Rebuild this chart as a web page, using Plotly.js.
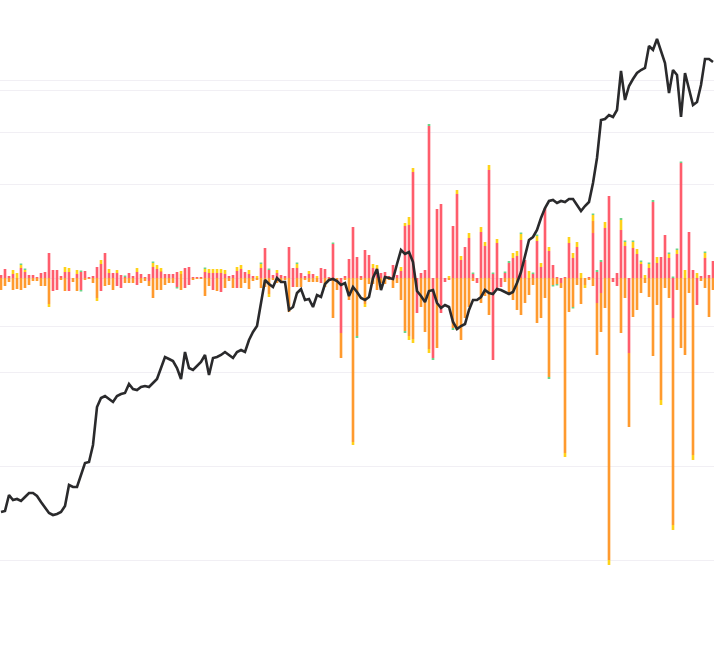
<!DOCTYPE html>
<html>
<head>
<meta charset="utf-8">
<script src="https://cdn.plot.ly/plotly-3.0.1.min.js"></script>
<style>html,body{margin:0;padding:0;background:#fff;}#chart{width:714px;height:648px;}</style>
</head>
<body>
<div id="chart"></div>
<script>
// Day index (categories)
const days = Array.from({length: 179}, (_, i) => i);

// Positive (upward) stacked components
const redPos = [
3,9,2,4,0,10,6,3,3,1, 5,6,25,8,8,2,6,6,0,4, 6,7,1,2,11,14,25,5,5,5, 3,1,5,2,6,4,1,4,11,9,
6,4,4,4,6,0,10,11,1,1, 1,6,5,5,5,5,4,2,3,7, 9,6,4,2,0,10,30,8,3,5, 3,2,31,10,10,5,2,4,4,0,
10,9,1,34,0,0,2,19,51,21, 2,28,23,10,9,5,6,2,13,3, 7,52,53,106,0,5,8,152,0,69, 74,0,0,52,84,18,31,40,4,0,
46,32,108,4,35,0,5,15,20,22, 38,18,0,4,37,11,70,27,13,1, 0,1,35,20,31,0,0,1,45,6, 16,50,82,0,5,48,32,0,30,24,
14,0,10,76,15,21,43,20,0,24, 115,0,46,8,0,2,20,3,17];
const orangePos = [
0,0,0,0,0,0,0,0,0,0, 0,0,0,0,0,0,0,0,0,0, 0,0,0,0,0,0,0,0,0,0, 0,0,0,0,0,0,0,0,0,0,
1,0,0,0,0,4,0,0,0,0, 0,0,0,0,0,0,0,0,0,0, 0,0,0,0,0,0,0,0,0,0, 0,0,0,0,0,0,0,0,0,0,
0,0,0,0,0,0,0,0,0,0, 0,0,0,0,0,0,0,0,0,0, 0,0,0,0,0,0,0,0,0,0, 0,0,0,0,0,0,0,0,0,0,
0,0,0,0,0,0,0,0,0,0, 0,0,0,0,0,0,0,0,0,0, 0,0,0,0,0,0,0,0,12,0, 0,0,0,0,0,0,0,0,0,0,
0,0,0,0,0,0,0,0,0,0, 0,0,0,0,0,0,0,0,0];
const yellowPos = [
0,0,0,4,5,3,2,0,0,0, 0,0,0,0,0,0,5,4,0,4, 0,0,0,0,0,4,0,4,0,3, 0,0,0,0,4,0,0,0,4,4,
3,0,0,0,0,3,0,0,0,0, 0,3,4,4,4,4,4,0,0,4, 4,0,4,0,2,4,0,0,0,3, 0,0,0,0,4,0,0,3,0,2,
0,0,0,0,0,0,0,0,0,0, 0,0,0,4,4,0,0,0,0,0, 4,3,8,4,0,0,0,0,0,0, 0,0,2,0,4,4,0,5,0,0,
5,4,5,0,4,0,0,0,5,5, 6,0,7,0,5,4,0,4,0,0, 0,0,6,5,5,5,0,0,6,0, 0,6,0,0,0,10,4,0,6,5,
2,3,4,0,6,0,0,4,0,4, 0,8,0,0,5,0,5,0,0];
const greenPos = [
0,0,0,0,0,1.5,1.5,0,0,0, 0,0,0,0,0,0,0,0,0,0, 1.5,0,0,0,0,0,0,0,0,0, 0,1.5,0,0,0,0,0,0,1.5,0,
0,0,0,0,0,0,0,0,0,0, 0,1.5,0,0,0,0,0,0,0,0, 0,0,0,0,0,1.5,0,1.5,0,0, 0,0,0,0,1.5,0,0,0,0,0,
0,0,0,1.5,0,0,0,0,0,0, 0,0,0,0,0,0,0,0,0,0, 0,0,0,0,0,0,0,2,0,0, 0,0,0,0,0,0,0,0,1.5,0,
0,0,0,1.5,0,0,1.5,2,0,0, 1.5,0,0,1.5,1.5,0,0,0,0,0, 0,0,0,0,0,0,0,0,1.5,2, 2,0,0,0,0,2,1.5,0,1.5,0,
1.5,0,1.5,2,0,0,0,1.5,1.5,1.5, 1.5,0,0,0,0,0,1.5,0,0];

// Negative (downward) stacked components, as magnitudes
const redNeg = [
0,0,0,0,0,0,0,0,0,0, 0,0,0,13,12,0,0,13,0,0, 12,0,0,0,0,13,0,0,0,8, 10,0,0,0,7,0,0,3,0,0,
0,0,0,0,9,0,10,7,0,0, 0,0,0,12,0,14,0,0,0,10, 0,0,0,0,0,0,0,0,0,0, 0,0,0,9,0,0,0,0,0,0,
5,0,0,0,0,55,0,0,0,0, 0,0,0,0,0,0,0,0,0,0, 0,0,0,0,35,0,0,0,80,0, 35,4,0,0,0,0,0,0,0,5,
0,0,0,82,12,9,0,0,0,0, 0,0,0,0,0,0,0,0,0,0, 5,0,0,0,0,0,0,0,0,25, 15,0,0,4,8,0,0,75,0,0,
0,0,0,0,0,0,0,0,40,0, 0,0,0,0,27,0,0,0,0];
const orangeNeg = [
12,8,4,12,11,12,10,7,3,3, 8,8,26,0,0,2,13,0,4,13, 0,2,1,5,20,0,8,7,12,0, 0,5,5,5,0,5,3,5,20,12,
12,7,5,5,0,12,0,0,2,1, 1,18,8,0,13,0,10,3,10,0, 10,5,11,3,2,10,9,16,2,5, 3,2,34,0,9,9,2,4,4,4,
0,9,2,40,12,25,2,22,164,58, 2,26,6,6,12,5,6,2,10,5, 22,53,58,61,0,29,54,71,0,70, 0,0,2,50,52,62,40,29,3,0,
25,18,37,0,0,0,4,17,22,32, 37,25,17,7,45,40,20,99,7,6, 5,175,34,29,7,26,7,2,8,52, 39,30,282,0,0,55,20,74,39,32,
15,5,19,78,27,122,10,20,207,12, 70,77,15,177,0,3,10,39,12];
const yellowNeg = [
0,0,0,0,0,0,0,0,0,0, 0,0,3,0,0,0,0,0,0,0, 0,0,0,0,3,0,0,0,0,0, 0,0,0,0,0,0,0,0,0,0,
0,0,0,0,0,0,0,0,0,0, 0,0,0,0,0,0,0,0,0,0, 0,0,0,0,0,0,0,3,0,0, 0,0,0,0,0,0,0,0,0,0,
0,0,0,0,0,0,0,0,3,0, 0,3,0,0,0,0,0,0,0,0, 0,0,4,4,0,0,0,4,0,0, 0,0,0,0,0,0,0,0,0,0,
0,0,0,0,0,0,0,0,0,0, 0,0,0,0,0,0,0,0,0,0, 0,4,0,0,0,0,3,0,0,0, 0,0,5,0,0,0,0,0,0,0,
0,0,0,0,0,5,0,0,5,0, 0,0,0,5,0,0,0,0,0];
const greenNeg = [
0,0,0,0,0,0,0,0,0,0, 0,0,0,0,0,0,0,0,0,0, 1.5,0,0,0,0,0,0,0,0,0, 0,0,0,0,0,0,0,0,0,0,
0,0,0,0,1.5,0,0,0,0,0, 0,0,0,0,0,0,0,0,0,0, 0,0,0,0,0,0,0,0,0,0, 0,0,0,0,0,0,0,0,0,0,
0,0,0,0,0,0,0,0,0,2, 0,0,0,0,0,0,0,0,0,0, 0,2,0,0,0,0,0,0,2,0, 0,0,0,2,0,0,0,0,0,0,
0,0,0,0,0,0,0,0,0,0, 0,0,0,0,0,0,0,2,1.5,1.5, 0,0,0,1.5,0,0,0,0,0,0, 0,0,0,0,0,0,0,0,0,0,
0,0,0,0,0,0,0,0,0,0, 0,0,0,0,0,0,0,0,0];

// Line series (right axis)
const lineVals = [
138,139,155,150,151,149,153,157,157,154, 148,142,137,135,136,138,144,165,163,163,
175,187,188,205,243,252,254,251,248,254, 256,257,266,261,260,263,264,263,267,271,
282,293,291,289,282,271,298,282,280,284, 288,295,275,292,293,295,298,295,292,298,
300,298,310,318,324,347,370,366,363,372, 368,368,340,343,357,361,350,351,343,355,
353,366,370,371,369,365,367,354,363,358, 352,350,353,372,381,360,373,372,371,386,
400,396,398,388,359,354,348,359,360,347, 342,345,343,328,321,324,326,340,350,350,
353,360,357,356,361,360,358,356,358,367, 378,393,410,413,420,432,442,449,450,447,
449,448,451,451,445,439,444,448,467,492, 530,531,535,533,540,579,550,564,571,577,
580,582,604,600,611,600,587,557,580,575, 533,577,562,545,548,565,591,591,588];

const barTickVals = [-282, -188, -94, 0, 94, 188];
const lineTickVals = [324, 518, 570];

const RED = '#FF5D6C', ORANGE = '#FF9A2E', YELLOW = '#FFD21A', GREEN = '#6CD487';
const neg = a => a.map(v => -v);

function bar(y, color) {
  return {type: 'bar', x: days, y: y, marker: {color: color, line: {width: 0}},
          width: 0.66, hoverinfo: 'skip', yaxis: 'y'};
}

const data = [
  bar(redPos, RED), bar(neg(redNeg), RED),
  bar(orangePos, ORANGE), bar(neg(orangeNeg), ORANGE),
  bar(yellowPos, YELLOW), bar(neg(yellowNeg), YELLOW),
  bar(greenPos, GREEN), bar(neg(greenNeg), GREEN),
  {type: 'scatter', mode: 'lines', x: days, y: lineVals, yaxis: 'y2',
   line: {color: '#2a2a2c', width: 2.6}, hoverinfo: 'skip'}
];

const layout = {
  width: 714, height: 648,
  margin: {l: 0, r: 0, t: 0, b: 0, pad: 0},
  paper_bgcolor: '#ffffff', plot_bgcolor: '#ffffff',
  showlegend: false,
  barmode: 'relative',
  xaxis: {range: [-0.25, 178.25], showgrid: false, zeroline: false,
          showticklabels: false, ticks: '', showline: false},
  yaxis: {range: [-370, 278], tickmode: 'array', tickvals: barTickVals,
          showticklabels: false, ticks: '', gridcolor: '#f1eff4', gridwidth: 1,
          zeroline: false, showline: false},
  yaxis2: {range: [2, 650], overlaying: 'y', side: 'right', tickmode: 'array',
           tickvals: lineTickVals, showticklabels: false, ticks: '',
           gridcolor: '#f1eff4', gridwidth: 1, showgrid: true, zeroline: false, showline: false}
};

Plotly.newPlot('chart', data, layout, {displayModeBar: false, staticPlot: true});
</script>
</body>
</html>
